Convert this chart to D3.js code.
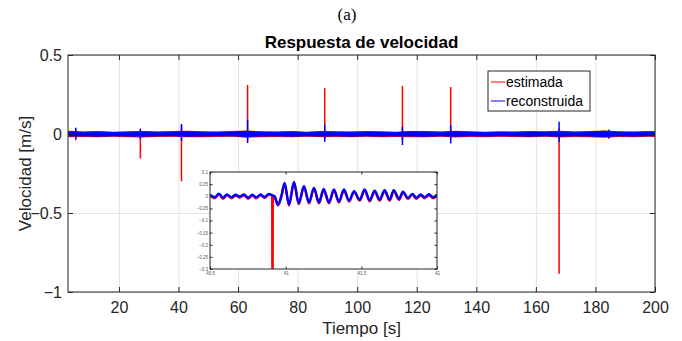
<!DOCTYPE html>
<html>
<head>
<meta charset="utf-8">
<script src="https://cdn.jsdelivr.net/npm/d3@7"></script>
<style>
  body { margin: 0; background: #fff; }
  svg { display: block; font-family: "Liberation Sans", Arial, sans-serif; }
</style>
</head>
<body>
<svg id="chart" width="682" height="341"></svg>
<script>
// main chart ticks
const xTicks = [20, 40, 60, 80, 100, 120, 140, 160, 180, 200];
const yTicks = [-1, -0.5, 0, 0.5];

// noise band envelope (s, m/s)
const bandTimes = [3, 8, 13, 18, 23, 28, 33, 38, 43, 48, 53, 58, 63, 68, 73, 78, 83, 88, 93, 98,
  103, 108, 113, 118, 123, 128, 133, 138, 143, 148, 153, 158, 163, 168, 173, 178, 183, 188, 193, 198, 200];
const blueHi = [0.018, 0.014, 0.016, 0.013, 0.015, 0.017, 0.014, 0.016, 0.018, 0.015, 0.014, 0.016, 0.020, 0.015,
  0.014, 0.016, 0.013, 0.017, 0.015, 0.014, 0.016, 0.015, 0.013, 0.017, 0.016, 0.014, 0.018, 0.015, 0.013, 0.015,
  0.014, 0.016, 0.015, 0.018, 0.014, 0.016, 0.020, 0.015, 0.014, 0.016, 0.016];
const blueLo = [-0.016, -0.015, -0.017, -0.014, -0.016, -0.018, -0.015, -0.014, -0.017, -0.016, -0.015, -0.014, -0.019, -0.016,
  -0.015, -0.017, -0.014, -0.016, -0.015, -0.017, -0.014, -0.016, -0.015, -0.016, -0.017, -0.014, -0.018, -0.015, -0.016, -0.014,
  -0.015, -0.017, -0.014, -0.018, -0.015, -0.016, -0.019, -0.015, -0.016, -0.014, -0.015];
const redHi = [0.020, 0.016, 0.019, 0.015, 0.018, 0.019, 0.016, 0.019, 0.020, 0.017, 0.016, 0.019, 0.022, 0.017,
  0.016, 0.019, 0.015, 0.019, 0.017, 0.016, 0.019, 0.017, 0.015, 0.019, 0.019, 0.016, 0.020, 0.017, 0.015, 0.017,
  0.016, 0.019, 0.017, 0.020, 0.016, 0.019, 0.022, 0.017, 0.016, 0.019, 0.018];
const redLo = [-0.020, -0.019, -0.021, -0.018, -0.020, -0.022, -0.019, -0.018, -0.021, -0.020, -0.019, -0.018, -0.023, -0.020,
  -0.019, -0.021, -0.018, -0.020, -0.019, -0.021, -0.018, -0.020, -0.019, -0.020, -0.021, -0.018, -0.022, -0.019, -0.020, -0.018,
  -0.019, -0.021, -0.018, -0.022, -0.019, -0.020, -0.023, -0.019, -0.020, -0.018, -0.019];

// disturbance spikes
const spikeTimes   = [5.5, 27.2, 41.0, 63.2, 89.1, 115.2, 131.4, 167.8, 184.5];
const redSpikeMin  = [-0.040, -0.155, -0.300, -0.040, -0.035, -0.040, -0.035, -0.885, -0.030];
const redSpikeMax  = [0.030, 0.025, 0.050, 0.310, 0.290, 0.305, 0.297, 0.035, 0.028];
const blueSpikeMin = [-0.030, -0.030, -0.045, -0.057, -0.050, -0.070, -0.060, -0.050, -0.025];
const blueSpikeMax = [0.040, 0.035, 0.063, 0.089, 0.060, 0.046, 0.057, 0.078, 0.025];

// inset zoom around t = 41 s
const insetXTicks = [40.5, 41, 41.5, 42];
const insetYTicks = [0.1, 0.05, 0, -0.05, -0.1, -0.15, -0.2, -0.25, -0.3];
const insetTimes = [40.500, 40.531, 40.559, 40.586, 40.612, 40.641, 40.670, 40.696, 40.725, 40.751, 40.780, 40.806,
  40.835, 40.861, 40.890, 40.912, 40.927, 40.949, 40.971, 40.993, 41.022, 41.055, 41.086, 41.121, 41.154, 41.187,
  41.220, 41.251, 41.286, 41.319, 41.352, 41.385, 41.419, 41.452, 41.489, 41.522, 41.555, 41.588, 41.621, 41.654,
  41.687, 41.714, 41.749, 41.775, 41.808, 41.837, 41.863, 41.892, 41.918, 41.947, 41.974, 42.000];
const insetBlue = [0.007, -0.004, 0.011, -0.006, 0.007, -0.004, 0.006, -0.001, 0.007, -0.006, 0.006, -0.004,
  0.007, -0.003, 0.010, 0.004, 0.000, -0.034, 0.000, 0.055, -0.034, 0.059, -0.028, 0.041, -0.025, 0.034,
  -0.025, 0.030, -0.025, 0.028, -0.022, 0.028, -0.018, 0.021, -0.014, 0.028, -0.017, 0.023, -0.014, 0.025,
  -0.014, 0.025, -0.011, 0.019, -0.007, 0.010, -0.006, 0.007, -0.004, 0.008, -0.004, 0.007];
const insetRedTimes = [40.500, 40.531, 40.559, 40.586, 40.612, 40.641, 40.670, 40.696, 40.725, 40.751, 40.780, 40.806,
  40.835, 40.861, 40.890, 40.911, 40.9125, 40.9135, 40.915, 40.927, 40.949, 40.971, 40.993, 41.022, 41.055, 41.086,
  41.121, 41.154, 41.187, 41.220, 41.251, 41.286, 41.319, 41.352, 41.385, 41.419, 41.452, 41.489, 41.522, 41.555,
  41.588, 41.621, 41.654, 41.687, 41.714, 41.749, 41.775, 41.808, 41.837, 41.863, 41.892, 41.918, 41.947, 41.974, 42.000];
const insetRed = [0.004, -0.008, 0.008, -0.010, 0.004, -0.008, 0.003, -0.005, 0.004, -0.010, 0.003, -0.008,
  0.004, -0.007, 0.007, 0.002, -0.360, -0.360, 0.002, -0.004, -0.038, -0.004, 0.051, -0.038, 0.055, -0.032,
  0.037, -0.029, 0.030, -0.029, 0.026, -0.029, 0.024, -0.026, 0.024, -0.022, 0.017, -0.018, 0.024, -0.021,
  0.019, -0.018, 0.021, -0.018, 0.021, -0.015, 0.015, -0.011, 0.006, -0.010, 0.003, -0.008, 0.004, -0.008, 0.003];

const ink = '#262626';
const gridColor = '#e3e3e3';
const margin = { left: 68, right: 27, top: 55, bottom: 49 };
const width = 682, height = 341;

const svg = d3.select('#chart');

const x = d3.scaleLinear().domain([2.9, 200]).range([margin.left, width - margin.right]);
const y = d3.scaleLinear().domain([-1, 0.5]).range([height - margin.bottom, margin.top]);

// grid
svg.append('g')
  .attr('transform', `translate(0,${y(-1)})`)
  .call(d3.axisBottom(x).tickValues(xTicks).tickSize(-(y(-1) - y(0.5))).tickFormat(''))
  .call(g => g.select('.domain').remove())
  .call(g => g.selectAll('line').attr('stroke', gridColor));
svg.append('g')
  .attr('transform', `translate(${x.range()[0]},0)`)
  .call(d3.axisLeft(y).tickValues(yTicks).tickSize(-(x.range()[1] - x.range()[0])).tickFormat(''))
  .call(g => g.select('.domain').remove())
  .call(g => g.selectAll('line').attr('stroke', gridColor));

// signals
const plot = svg.append('g');
const band = (hi, lo) => d3.area()
  .x((d, i) => x(bandTimes[i]))
  .y0((d, i) => y(lo[i]))
  .y1((d, i) => y(hi[i]));

plot.append('path').datum(bandTimes).attr('fill', 'red').attr('d', band(redHi, redLo));
plot.selectAll('.rs').data(spikeTimes).join('line')
  .attr('x1', d => x(d)).attr('x2', d => x(d))
  .attr('y1', (d, i) => y(redSpikeMin[i])).attr('y2', (d, i) => y(redSpikeMax[i]))
  .attr('stroke', 'red').attr('stroke-width', 1.5);
plot.append('path').datum(bandTimes).attr('fill', 'blue').attr('d', band(blueHi, blueLo));
plot.selectAll('.bs').data(spikeTimes).join('line')
  .attr('x1', d => x(d)).attr('x2', d => x(d))
  .attr('y1', (d, i) => y(blueSpikeMin[i])).attr('y2', (d, i) => y(blueSpikeMax[i]))
  .attr('stroke', 'blue').attr('stroke-width', 1.5);

// axes with inward ticks
const styleAxis = g => {
  g.select('.domain').remove();
  g.selectAll('line').attr('stroke', ink);
  g.selectAll('text').attr('fill', ink).attr('font-size', 16).attr('font-family', '"Liberation Sans", Arial, sans-serif');
};
svg.append('g')
  .attr('transform', `translate(0,${y(-1)})`)
  .call(d3.axisBottom(x).tickValues(xTicks).tickSizeInner(-5).tickSizeOuter(0).tickPadding(10))
  .call(styleAxis);
svg.append('g')
  .attr('transform', `translate(0,${y(0.5)})`)
  .call(d3.axisTop(x).tickValues(xTicks).tickSizeInner(-5).tickSizeOuter(0).tickFormat(''))
  .call(styleAxis);
svg.append('g')
  .attr('transform', `translate(${x.range()[0]},0)`)
  .call(d3.axisLeft(y).tickValues(yTicks).tickSizeInner(-5).tickSizeOuter(0).tickPadding(6).tickFormat(d3.format('')))
  .call(styleAxis);
svg.append('g')
  .attr('transform', `translate(${x.range()[1]},0)`)
  .call(d3.axisRight(y).tickValues(yTicks).tickSizeInner(-5).tickSizeOuter(0).tickFormat(''))
  .call(styleAxis);
svg.append('rect')
  .attr('x', x.range()[0]).attr('y', y(0.5))
  .attr('width', x.range()[1] - x.range()[0]).attr('height', y(-1) - y(0.5))
  .attr('fill', 'none').attr('stroke', ink).attr('stroke-width', 1);

// labels
svg.append('text').attr('x', 347).attr('y', 20).attr('text-anchor', 'middle')
  .attr('font-family', '"Liberation Serif", "Times New Roman", serif').attr('font-size', 17).attr('fill', '#000')
  .text('(a)');
svg.append('text').attr('x', (x.range()[0] + x.range()[1]) / 2).attr('y', 48).attr('text-anchor', 'middle')
  .attr('font-weight', 'bold').attr('font-size', 17).attr('fill', '#000')
  .text('Respuesta de velocidad');
svg.append('text').attr('x', (x.range()[0] + x.range()[1]) / 2).attr('y', 334).attr('text-anchor', 'middle')
  .attr('font-size', 17).attr('fill', ink)
  .text('Tiempo [s]');
svg.append('text').attr('transform', `translate(31,${(y(0.5) + y(-1)) / 2}) rotate(-90)`).attr('text-anchor', 'middle')
  .attr('font-size', 17).attr('fill', ink)
  .text('Velocidad [m/s]');

// legend
const legend = svg.append('g').attr('transform', 'translate(488,71)');
legend.append('rect').attr('width', 102).attr('height', 40)
  .attr('fill', '#fff').attr('stroke', ink).attr('stroke-width', 1);
[['estimada', 'red'], ['reconstruida', 'blue']].forEach(([name, color], i) => {
  const row = legend.append('g').attr('transform', `translate(0,${11 + i * 19})`);
  row.append('line').attr('x1', 3).attr('x2', 17).attr('stroke', color).attr('stroke-width', 1);
  row.append('text').attr('x', 18).attr('y', 5).attr('font-size', 14).attr('fill', '#000').text(name);
});

// inset
const xi = d3.scaleLinear().domain([40.5, 42]).range([210, 437]);
const yi = d3.scaleLinear().domain([-0.3, 0.1]).range([269, 172]);
const inset = svg.append('g');
inset.append('rect').attr('x', 210).attr('y', 172).attr('width', 227).attr('height', 97).attr('fill', '#fff');
svg.append('clipPath').attr('id', 'insetClip')
  .append('rect').attr('x', 210).attr('y', 172).attr('width', 227).attr('height', 97);
const insetPlot = inset.append('g').attr('clip-path', 'url(#insetClip)');
insetPlot.append('path').datum(insetRed)
  .attr('fill', 'none').attr('stroke', 'red').attr('stroke-width', 2.4).attr('stroke-linejoin', 'round')
  .attr('d', d3.line().curve(d3.curveMonotoneX).x((d, i) => xi(insetRedTimes[i])).y(d => yi(d)));
insetPlot.append('path').datum(insetBlue)
  .attr('fill', 'none').attr('stroke', 'blue').attr('stroke-width', 2.4).attr('stroke-linejoin', 'round')
  .attr('d', d3.line().curve(d3.curveMonotoneX).x((d, i) => xi(insetTimes[i])).y(d => yi(d)));

const styleInset = g => {
  g.select('.domain').remove();
  g.selectAll('line').attr('stroke', ink);
  g.selectAll('text').attr('fill', '#555').attr('font-size', 4.5).attr('font-family', '"Liberation Sans", Arial, sans-serif');
};
inset.append('g').attr('transform', 'translate(0,269)')
  .call(d3.axisBottom(xi).tickValues(insetXTicks).tickSizeInner(-2.5).tickSizeOuter(0).tickPadding(2.5).tickFormat(d3.format('')))
  .call(styleInset);
inset.append('g').attr('transform', 'translate(0,172)')
  .call(d3.axisTop(xi).tickValues(insetXTicks).tickSizeInner(-2.5).tickSizeOuter(0).tickFormat(''))
  .call(styleInset);
inset.append('g').attr('transform', 'translate(210,0)')
  .call(d3.axisLeft(yi).tickValues(insetYTicks).tickSizeInner(-2.5).tickSizeOuter(0).tickPadding(2).tickFormat(d3.format('')))
  .call(styleInset);
inset.append('g').attr('transform', 'translate(437,0)')
  .call(d3.axisRight(yi).tickValues(insetYTicks).tickSizeInner(-2.5).tickSizeOuter(0).tickFormat(''))
  .call(styleInset);
inset.append('rect').attr('x', 210).attr('y', 172).attr('width', 227).attr('height', 97)
  .attr('fill', 'none').attr('stroke', ink).attr('stroke-width', 1);
</script>
</body>
</html>
